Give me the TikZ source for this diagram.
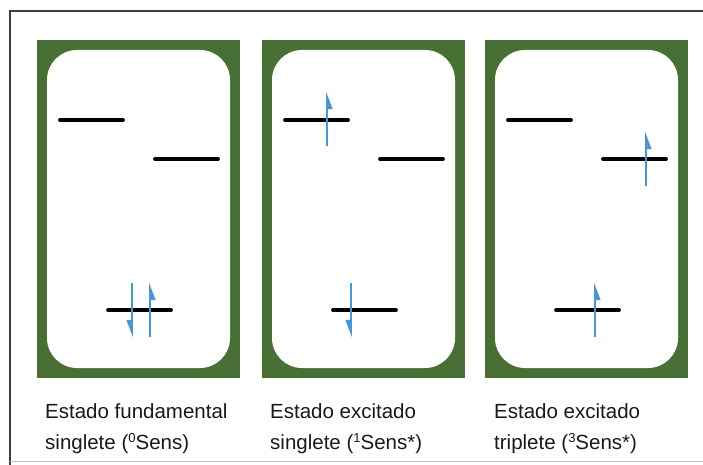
\documentclass[tikz,border=0pt]{standalone}
\usepackage{fontspec}
\setmainfont{Liberation Sans}
\usetikzlibrary{arrows.meta}
\definecolor{panelgreen}{RGB}{72,112,52}
\definecolor{spinblue}{RGB}{70,150,220}
\definecolor{framegray}{RGB}{60,60,60}
\tikzset{
  level/.style={line width=3.8pt, line cap=round, black},
  spin/.style={line width=1.6pt, spinblue, -{Triangle[harpoon,swap,length=15pt,width=11pt]}},
  caption/.style={anchor=base west, inner sep=0pt, font=\fontsize{20.5}{31}\selectfont, align=left, text=black!90}
}
\begin{document}
\begin{tikzpicture}[x=1pt,y=-1pt]
\useasboundingbox (0,0) rectangle (703,465);
% frame
\draw[framegray, line width=1.8pt] (10,465) -- (10,11) -- (703,11);
\draw[black!25, line width=0.8pt] (10,461) -- (703,461);
% panels
\foreach \ox/\nm in {37/a,262/b,485/c}{
  \fill[panelgreen] (\ox,40) rectangle ++(203,338);
  \fill[white, rounded corners=30pt] (\ox+10,50) rectangle ++(183,318);
  \coordinate (\nm tl1) at (\ox+23,120);
  \coordinate (\nm tl2) at (\ox+86,120);
  \coordinate (\nm r1) at (\ox+118,159);
  \coordinate (\nm r2) at (\ox+181,159);
  \coordinate (\nm b1) at (\ox+71,310);
  \coordinate (\nm b2) at (\ox+134,310);
  \draw[level] (\nm tl1) -- (\nm tl2);
  \draw[level] (\nm r1) -- (\nm r2);
  \draw[level] (\nm b1) -- (\nm b2);
}
% spins panel 1
\coordinate (a1s) at (132,283); \coordinate (a1e) at (132,337);
\coordinate (a2s) at (150,337); \coordinate (a2e) at (150,283);
\draw[spin] (a1s) -- (a1e);
\draw[spin] (a2s) -- (a2e);
% spins panel 2
\coordinate (b1s) at (327,146); \coordinate (b1e) at (327,92);
\coordinate (b2s) at (351,283); \coordinate (b2e) at (351,337);
\draw[spin] (b1s) -- (b1e);
\draw[spin] (b2s) -- (b2e);
% spins panel 3
\coordinate (c1s) at (646,186); \coordinate (c1e) at (646,132);
\coordinate (c2s) at (595,337); \coordinate (c2e) at (595,283);
\draw[spin] (c1s) -- (c1e);
\draw[spin] (c2s) -- (c2e);
% captions
\node[caption] (t1) at (45,449) {Estado fundamental\\singlete ({\fontsize{13}{13}\selectfont\raisebox{7pt}{0}}Sens)};
\node[caption] (t2) at (270,449) {Estado excitado\\singlete ({\fontsize{13}{13}\selectfont\raisebox{7pt}{1}}Sens*)};
\node[caption] (t3) at (494,449) {Estado excitado\\triplete ({\fontsize{13}{13}\selectfont\raisebox{7pt}{3}}Sens*)};
\end{tikzpicture}
\end{document}
